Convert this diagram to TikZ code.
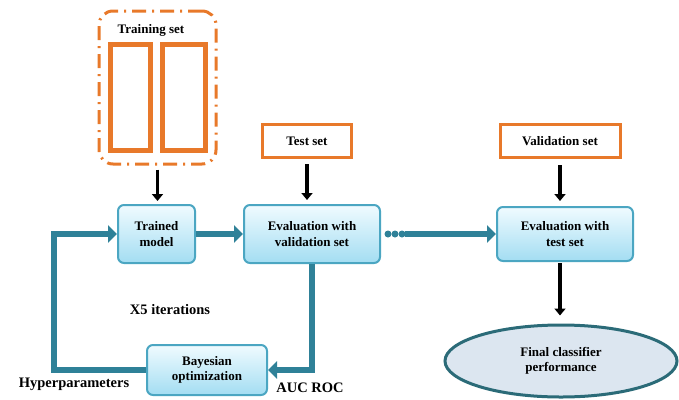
\documentclass[tikz,border=0pt]{standalone}
\usepackage{fontspec}
\setmainfont{Liberation Serif}
\usetikzlibrary{arrows.meta,shapes.geometric,positioning}
\definecolor{setorange}{HTML}{E8792A}
\definecolor{boxedge}{HTML}{4BA6C2}
\definecolor{boxtop}{HTML}{F0FBFF}
\definecolor{boxbot}{HTML}{A3DDF2}
\definecolor{flowteal}{HTML}{2F8198}
\definecolor{finalfill}{HTML}{DCE6F0}
\definecolor{finaledge}{HTML}{2B6B78}
\tikzset{
  txt/.style={font=\bfseries\fontsize{13}{15.5}\selectfont, align=center},
  bigtxt/.style={txt, font=\bfseries\fontsize{14.5}{17}\selectfont},
  stepbox/.style={txt, draw=boxedge, line width=2pt, rounded corners=6pt,
    top color=boxtop, bottom color=boxbot, inner sep=0pt},
  setbox/.style={txt, draw=setorange, line width=3pt, fill=white, inner sep=0pt},
  flow/.style={draw=flowteal, line width=6pt, -{Triangle[length=9pt,width=17pt]}},
  blackarrow/.style={draw=black, line width=3.5pt, -{Triangle[length=7pt,width=11pt]}}
}
\begin{document}
\begin{tikzpicture}[x=1pt,y=-1pt]
  \useasboundingbox (0,0) rectangle (679,399);
  % training set
  \node[draw=setorange, line width=3pt, rounded corners=14pt,
        dash pattern=on 14pt off 6pt on 2pt off 6pt,
        minimum width=117pt, minimum height=153pt] (trainset) at (157.5,87.5) {};
  \node[txt] (trainlabel) at (151,30) {Training set};
  \node[draw=setorange, line width=5pt, minimum width=40pt, minimum height=106pt] (trainleft) at (130,97) {};
  \node[draw=setorange, line width=5pt, minimum width=43pt, minimum height=106pt] (trainright) at (183.5,97) {};
  % steps
  \node[stepbox, minimum width=77pt, minimum height=58pt] (trained) at (156.5,234) {Trained\\model};
  \node[stepbox, minimum width=136pt, minimum height=58pt] (evalval) at (312,234) {Evaluation with\\validation set};
  \node[stepbox, minimum width=136pt, minimum height=54pt] (evaltest) at (565,234) {Evaluation with\\test set};
  \node[stepbox, minimum width=120pt, minimum height=50pt] (bayes) at (207,370) {Bayesian\\optimization};
  \node[setbox, minimum width=89pt, minimum height=33pt] (testset) at (307,141) {Test set};
  \node[setbox, minimum width=120pt, minimum height=33pt] (valset) at (560,141) {Validation set};
  \node[txt, ellipse, draw=finaledge, fill=finalfill, line width=3pt,
        minimum width=232pt, minimum height=72pt, inner sep=0pt] (final) at (561,361) {Final classifier\\performance};
  % labels
  \node[bigtxt] (iters) at (170,310) {X5 iterations};
  \node[bigtxt] (hyper) at (74,384) {Hyperparameters};
  \node[bigtxt] (auc) at (310,388) {AUC ROC};
  % black arrows
  \draw[blackarrow, shorten <=4pt, shorten >=3pt] (trainset.south) -- (trainset.south |- trained.north);
  \draw[blackarrow, shorten <=5pt, shorten >=4pt] (testset.south) -- (testset.south |- evalval.north);
  \draw[blackarrow, shorten <=6pt, shorten >=5pt] (valset.south) -- (valset.south |- evaltest.north);
  \draw[blackarrow, shorten <=1pt, shorten >=8pt] (evaltest.south -| valset.south) -- (valset.south |- final.north);
  % teal flow
  \draw[flow] (trained) -- (evalval);
  \foreach \i in {1,2,3}
    \fill[flowteal] ([xshift=\i*7pt]evalval.east) circle (3.5pt);
  \draw[flow] ([xshift=24pt]evalval.east) -- (evaltest.west);
  \draw[flow] (evalval.south) |- (bayes.east);
  \draw[flow] (bayes.west) -- ++(-92,0) |- (trained.west);
\end{tikzpicture}
\end{document}
